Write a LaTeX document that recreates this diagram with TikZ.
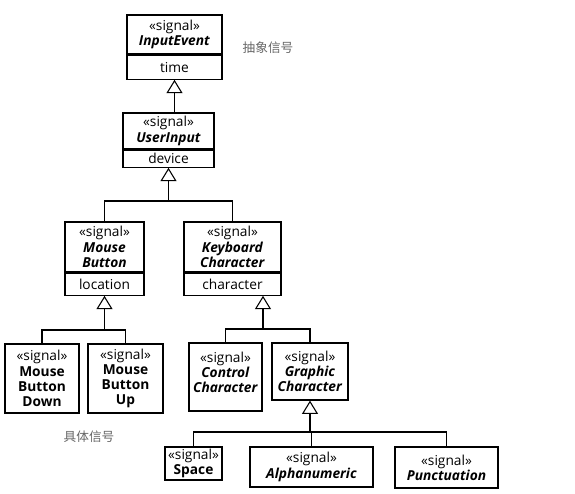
\documentclass[tikz,border=0pt]{standalone}
\usepackage{fontspec}
\setmainfont{Open Sans}
\newfontfamily\cjk{Noto Sans CJK SC}
\usetikzlibrary{arrows.meta}
\tikzset{
  wh/.style 2 args={minimum width=#1*0.75pt, minimum height=#2*0.75pt},
  cls/.style={draw, line width=0.9pt, inner sep=0pt, align=center,
    font=\fontsize{10.3}{11.4}\selectfont},
  gen/.style={line width=0.8pt, -{Triangle[open,length=10pt,width=12pt,line width=0.8pt]}},
  link/.style={line width=0.8pt},
  note/.style={font=\cjk\fontsize{9.5}{10}\selectfont, text=black!60},
}
\newcommand{\sg}{«signal»}
\newcommand{\an}[1]{\textbf{\textit{#1}}}
\begin{document}
\begin{tikzpicture}[x=0.75pt,y=-0.75pt]
\useasboundingbox (0,0) rectangle (575,493);
% InputEvent
\node[cls, wh={95}{39}] (ieT) at (174.5,34.5) {\sg\\\an{InputEvent}};
\node[cls, wh={95}{24}, anchor=north] (ieA) at (ieT.south) {time};
\node[note] (n1) at (268,48) {抽象信号};
% UserInput
\node[cls, wh={91}{36}] (uiT) at (168.5,131) {\sg\\\an{UserInput}};
\node[cls, wh={91}{17}, anchor=north] (uiA) at (uiT.south) {device};
% Mouse Button
\node[cls, wh={79}{50}] (mbT) at (104.5,247) {\sg\\\an{Mouse}\\\an{Button}};
\node[cls, wh={79}{22}, anchor=north] (mbA) at (mbT.south) {location};
% Keyboard Character
\node[cls, wh={97}{50}] (kcT) at (232.5,247) {\sg\\\an{Keyboard}\\\an{Character}};
\node[cls, wh={97}{22}, anchor=north] (kcA) at (kcT.south) {character};
% Mouse Button Down / Up
\node[cls, wh={74}{69}] (mbd) at (42,378.5) {\sg\\\textbf{Mouse}\\\textbf{Button}\\\textbf{Down}};
\node[cls, wh={75}{69}] (mbu) at (125.5,378.5) {\sg\\\textbf{Mouse}\\\textbf{Button}\\\textbf{Up}};
% Control / Graphic
\node[cls, wh={73}{68}] (cc) at (225.5,377) {\sg\\\an{Control}\\\an{Character}\\[-4pt]};
\node[cls, wh={76}{57}] (gc) at (310,371.5) {\sg\\\an{Graphic}\\\an{Character}};
% Space / Alphanumeric / Punctuation
\node[cls, wh={57}{33}] (sp) at (193.5,463.5) {\sg\\\textbf{Space}};
\node[cls, wh={123}{40}] (al) at (311.5,467) {\sg\\\an{Alphanumeric}};
\node[cls, wh={103}{41}] (pu) at (446.5,467.5) {\sg\\\an{Punctuation}};
\node[note] (n2) at (89,437) {具体信号};
% junctions
\coordinate (j1) at (uiA.south |- 0,201);
\coordinate (j2) at (mbA.south |- 0,330);
\coordinate (kctip) at (263,0 |- kcA.south);
\coordinate (j3) at (263,329);
\coordinate (j4) at (gc.south |- 0,432);
% connectors
\draw[gen] (uiT.north -| ieA.south) -- (ieA.south);
\draw[gen] (j1) -- (uiA.south);
\draw[link] (mbT.north) |- (j1) -| (kcT.north);
\draw[gen] (j2) -- (mbA.south);
\draw[link] (mbd.north) |- (j2) -| (mbu.north);
\draw[gen] (j3) -- (kctip);
\draw[link] (cc.north) |- (j3) -| (gc.north);
\draw[gen] (j4) -- (gc.south);
\draw[link] (sp.north) |- (j4) -| (pu.north);
\draw[link] (al.north) -- (al.north |- j4);
\end{tikzpicture}
\end{document}
